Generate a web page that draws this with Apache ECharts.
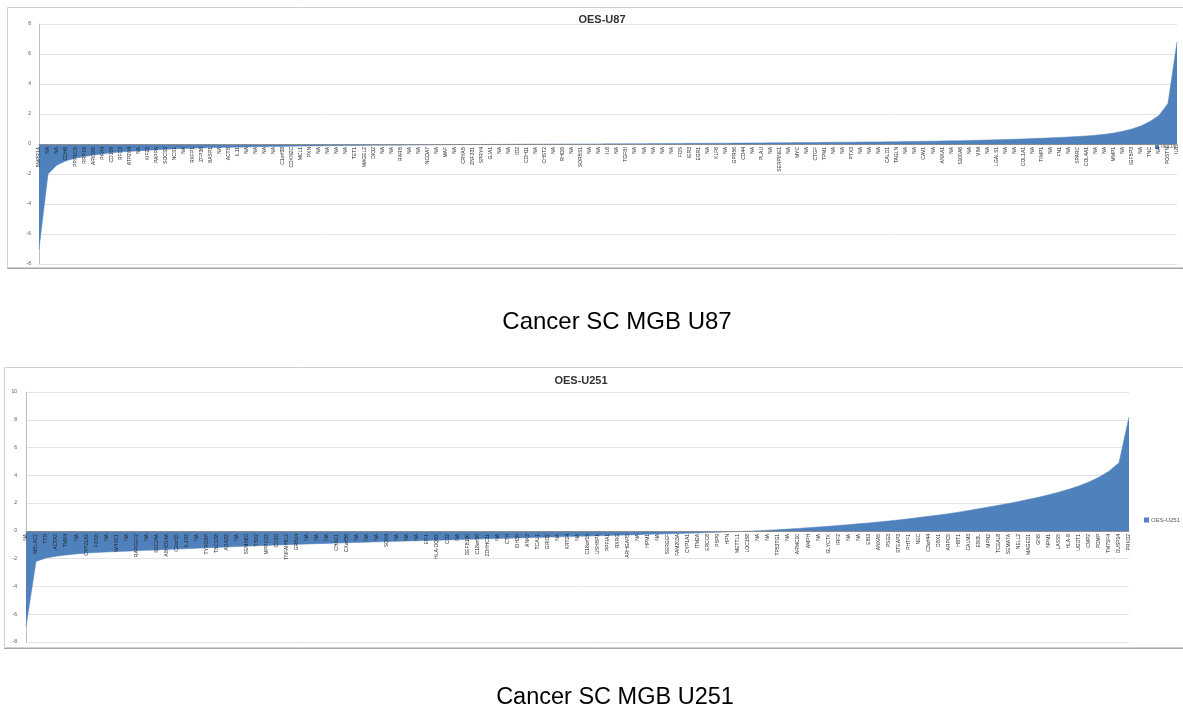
<!DOCTYPE html>
<html>
<head>
<meta charset="utf-8">
<script src="https://cdn.jsdelivr.net/npm/echarts@6/dist/echarts.min.js"></script>
<style>
html,body{margin:0;padding:0;background:#fff;}
#c{width:1183px;height:712px;}
</style>
</head>
<body>
<div id="c"></div>
<script>
// ---------- data ----------
const u87Genes = [
  "BMPR1A","NA","NA","CDH6","PPP1CB","RRP1B","ARID3B","PKP4","CD109","RFC3",
  "ATP2B4","NA","KIF23","PAPPA","SOCS3","NCS1","NA","RXFP1","ZFP36","BASP1",
  "NA","ACTB","IL11","NA","NA","NA","NA","C1orf38","CDKN2C","MCL1",
  "PXN","NA","NA","NA","NA","TET1","MAGEL2","DIO2","NA","NA",
  "RARB","NA","NA","NCOA7","NA","MAF","NA","CRYAB","ZNF331","SPRY4",
  "GJA1","NA","NA","ID2","CDH11","NA","CHST2","NA","RHOB","NA",
  "SORBS1","NA","NA","IL6","NA","TGFBI","NA","NA","NA","NA",
  "NA","FOS","IER3","EGR1","NA","KLF6","NA","GPR56","CD44","NA",
  "PLAU","NA","SERPINE1","NA","MYC","NA","CTGF","TPM1","NA","NA",
  "PTX3","NA","NA","NA","CALD1","TAGLN","NA","NA","CAV1","NA",
  "ANXA1","NA","S100A6","NA","VIM","NA","LGALS1","NA","NA","COL1A1",
  "NA","TIMP1","NA","FN1","NA","SPARC","COL4A1","NA","NA","MMP1",
  "NA","IGFBP3","NA","TNC","NA","POSTN","IL8"
];
const u87Values = [
  -7.0,-2.0,-1.4,-1.12,-0.95,-0.83,-0.74,-0.66,-0.59,-0.53,
  -0.49,-0.46,-0.42,-0.38,-0.35,-0.32,-0.3,-0.28,-0.26,-0.24,
  -0.23,-0.22,-0.21,-0.2,-0.19,-0.18,-0.17,-0.16,-0.15,-0.14,
  -0.13,-0.125,-0.12,-0.11,-0.105,-0.1,-0.095,-0.09,-0.085,-0.08,
  -0.075,-0.07,-0.065,-0.06,-0.055,-0.05,-0.045,-0.04,-0.036,-0.032,
  -0.028,-0.024,-0.02,-0.017,-0.014,-0.011,-0.008,-0.006,-0.004,-0.002,
  0.0,0.003,0.006,0.01,0.013,0.016,0.02,0.023,0.027,0.03,
  0.034,0.038,0.042,0.046,0.05,0.054,0.058,0.062,0.066,0.07,
  0.075,0.08,0.085,0.09,0.095,0.1,0.105,0.11,0.115,0.12,
  0.125,0.13,0.135,0.14,0.145,0.15,0.16,0.17,0.18,0.19,
  0.2,0.21,0.22,0.235,0.25,0.265,0.28,0.3,0.32,0.34,
  0.36,0.38,0.41,0.44,0.47,0.5,0.54,0.59,0.65,0.73,
  0.85,1.0,1.2,1.5,1.9,2.7,6.8
];
const u251Genes = [
  "NA","MBLAC2","TTR","ACTA2","TMX4","NA","CYP21A2","FOSB","NA","WHSC1",
  "NA","RAPGEF2","NA","SEC24A","ABHD14A","C2orf15","IL1R2","NA","TYROBP","TBC1D8",
  "ADAD2","NA","SEMA6D","TBX2","MPPED2","CD3D","TNFAIP8L2","GRB14","NA","NA",
  "NA","CHAC1","CXorf36","NA","NA","NA","SOX4","NA","NA","NA",
  "EIF1","HLA-DQB2","CD2","NA","DEFB130","C18orf26","ZDHHC11","NA","CTH","IDH3B",
  "ANK3","TCAL1","GRID2","NA","KRT24","NA","C18orf15","USHBP1","PPFIA1","RXRG",
  "ARHGAP5","NA","HPM1","NA","SERGEF","FAM203A","CYP1A1","ITM2A","ERCC8","PBP9",
  "HPN","METTL1","LOC158","NA","NA","TP53TG1","NA","ARMC10","AMPH","NA",
  "GLYCTK","IRF2","NA","NA","EBI3","ANXA5","PSG3","STEAP3","PHTF1","NEC",
  "C3orf44","DBX1","ARPC5","HBT1","CALM3","EBI3L","MPN2","TCEAL8","SEMA7A","NELL2",
  "MAGED1","GNS","NPM1","LASS5","HLA-B","UGDT1","CMP2","PDMP","TM7SF4","DUSP14",
  "PRKD2"
];
const u251Values = [
  -6.9,-2.2,-1.95,-1.82,-1.73,-1.66,-1.6,-1.56,-1.52,-1.49,
  -1.46,-1.43,-1.4,-1.37,-1.34,-1.31,-1.28,-1.25,-1.22,-1.19,
  -1.16,-1.13,-1.1,-1.07,-1.05,-1.02,-1.0,-0.97,-0.95,-0.92,
  -0.9,-0.88,-0.85,-0.83,-0.81,-0.79,-0.77,-0.75,-0.73,-0.71,
  -0.69,-0.67,-0.65,-0.63,-0.61,-0.59,-0.57,-0.55,-0.53,-0.51,
  -0.49,-0.47,-0.45,-0.43,-0.41,-0.39,-0.37,-0.35,-0.33,-0.31,
  -0.29,-0.27,-0.25,-0.23,-0.21,-0.19,-0.17,-0.15,-0.12,-0.1,
  -0.07,-0.05,-0.02,0.01,0.05,0.09,0.13,0.18,0.23,0.28,
  0.33,0.39,0.45,0.51,0.57,0.64,0.71,0.79,0.87,0.96,
  1.05,1.14,1.24,1.35,1.47,1.59,1.72,1.85,1.98,2.12,
  2.27,2.43,2.6,2.79,3.0,3.24,3.52,3.87,4.3,4.9,
  8.2
];
const u87Ticks = {min:-8, max:8, interval:2};
const u251Ticks = {min:-8, max:10, interval:2};

// ---------- chart ----------
const BLUE = '#4F81BD';
const FONT = 'Liberation Sans';
const G0 = {left:39, top:24, width:1138, height:240};
const G1 = {left:26, top:392, width:1103, height:250};
// distance (px) from bottom of each grid to the value 0, derived from the axis range
const off0 = -G0.height * (0 - u87Ticks.min) / (u87Ticks.max - u87Ticks.min);
const off1 = -G1.height * (0 - u251Ticks.min) / (u251Ticks.max - u251Ticks.min);

const chart = echarts.init(document.getElementById('c'), null, {renderer:'canvas'});

function xAxisCfg(gridIndex, names, offset){
  return {
    type:'category', gridIndex, data:names, boundaryGap:false,
    position:'bottom', offset:offset, z:10,
    axisLine:{onZero:false, lineStyle:{color:'#8c8c8c', width:1}},
    axisTick:{show:false},
    axisLabel:{interval:0, rotate:90, fontSize:5, color:'#262626', margin:3, fontFamily:FONT},
    splitLine:{show:false}
  };
}
function yAxisCfg(gridIndex, t, margin){
  return {
    type:'value', gridIndex, min:t.min, max:t.max, interval:t.interval,
    axisLine:{show:true, onZero:false, lineStyle:{color:'#bfbfbf'}},
    axisTick:{show:false},
    axisLabel:{fontSize:5, color:'#595959', margin, fontFamily:FONT},
    splitLine:{lineStyle:{color:'#e3e3e3', width:1}}
  };
}

chart.setOption({
  backgroundColor:'#fff',
  animation:false,
  title:[
    {text:'OES-U87', left:597, top:9, textAlign:'center',
     textStyle:{fontSize:11, fontWeight:'bold', color:'#333', fontFamily:FONT}},
    {text:'OES-U251', left:576, top:370, textAlign:'center',
     textStyle:{fontSize:11, fontWeight:'bold', color:'#333', fontFamily:FONT}}
  ],
  legend:[
    {data:['OES-U87'], left:1150, top:140, icon:'rect', itemWidth:4, itemHeight:4, itemGap:2,
     textStyle:{fontSize:4, color:'#404040', fontFamily:FONT, padding:[0,0,0,-3]}},
    {data:['OES-U251'], left:1139, top:512, icon:'rect', itemWidth:5, itemHeight:5, itemGap:2,
     textStyle:{fontSize:6, color:'#595959', fontFamily:FONT, padding:[0,0,0,-3]}}
  ],
  grid:[G0, G1],
  xAxis:[xAxisCfg(0, u87Genes, off0), xAxisCfg(1, u251Genes, off1)],
  yAxis:[yAxisCfg(0, u87Ticks, 8), yAxisCfg(1, u251Ticks, 9)],
  series:[
    {name:'OES-U87', type:'line', xAxisIndex:0, yAxisIndex:0, data:u87Values, z:2,
     symbol:'none', itemStyle:{color:BLUE}, lineStyle:{width:0.5, color:BLUE},
     areaStyle:{color:BLUE, opacity:1, origin:0}},
    {name:'OES-U251', type:'line', xAxisIndex:1, yAxisIndex:1, data:u251Values, z:2,
     symbol:'none', itemStyle:{color:BLUE}, lineStyle:{width:0.5, color:BLUE},
     areaStyle:{color:BLUE, opacity:1, origin:0}}
  ],
  graphic:[
    {type:'rect', z:-1, shape:{x:7.5, y:7.5, width:1180, height:260}, style:{fill:null, stroke:'#d0d0d0', lineWidth:1}},
    {type:'line', shape:{x1:7, y1:268.5, x2:1183, y2:268.5}, style:{stroke:'#a6a6a6', lineWidth:1}},
    {type:'rect', z:-1, shape:{x:4.5, y:367.5, width:1180, height:280}, style:{fill:null, stroke:'#d0d0d0', lineWidth:1}},
    {type:'line', shape:{x1:4, y1:648.5, x2:1183, y2:648.5}, style:{stroke:'#a6a6a6', lineWidth:1}},
    {type:'text', style:{text:'Cancer SC MGB U87', x:617, y:322, textAlign:'center', textVerticalAlign:'middle', font:'24px "Liberation Sans"', fill:'#000'}},
    {type:'text', style:{text:'Cancer SC MGB U251', x:615, y:698, textAlign:'center', textVerticalAlign:'middle', font:'23.5px "Liberation Sans"', fill:'#000'}}
  ]
});
</script>
</body>
</html>
